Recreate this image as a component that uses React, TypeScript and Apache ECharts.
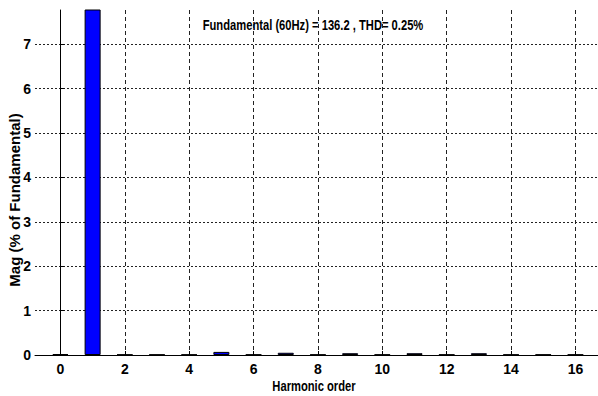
import React, { useEffect, useRef } from "react";
import * as echarts from "echarts";

const harmonicOrders = [0, 1, 2, 3, 4, 5, 6, 7, 8, 9, 10, 11, 12, 13, 14, 15, 16];
const magnitudes = [0.02, 100, 0.01, 0.01, 0.01, 0.07, 0.01, 0.05, 0.01, 0.04, 0.01, 0.04, 0.01, 0.04, 0.01, 0.01, 0.01];
const xTicks = [0, 2, 4, 6, 8, 10, 12, 14, 16];
const yTicks = [0, 1, 2, 3, 4, 5, 6, 7];
const titleText = "Fundamental (60Hz) = 136.2 , THD= 0.25%";
const xName = "Harmonic order";
const yName = "Mag (% of Fundamental)";

const FONT = "Arial, 'Liberation Sans', sans-serif";

export default function App() {
  const ref = useRef<HTMLDivElement>(null);
  useEffect(() => {
    document.body.style.margin = "0";
    const chart = echarts.init(ref.current!, null, { renderer: "svg" });
    chart.setOption({
      animation: false,
      backgroundColor: "#fff",
      grid: { left: 35, right: 0, top: 10, bottom: 41, containLabel: false, outerBoundsMode: "none" },
      graphic: [
        {
          type: "text",
          x: 313,
          y: 26,
          scaleX: 0.8,
          style: {
            text: titleText,
            fontFamily: FONT,
            fontWeight: "bold",
            fontSize: 14,
            fill: "#000",
            textAlign: "center",
            textVerticalAlign: "middle",
          },
        },
        {
          type: "text",
          x: 314,
          y: 387,
          scaleX: 0.8,
          style: {
            text: xName,
            fontFamily: FONT,
            fontWeight: "bold",
            fontSize: 14,
            fill: "#000",
            textAlign: "center",
            textVerticalAlign: "middle",
          },
        },
        {
          type: "text",
          x: 14,
          y: 200,
          rotation: Math.PI / 2,
          style: {
            text: yName,
            fontFamily: FONT,
            fontWeight: "bold",
            fontSize: 15,
            fill: "#000",
            textAlign: "center",
            textVerticalAlign: "middle",
          },
        },
      ],
      xAxis: {
        type: "value",
        min: -0.79,
        max: 16.7,
        axisLine: { show: true, onZero: false, lineStyle: { color: "#000", width: 1 } },
        axisTick: { show: true, inside: true, length: 4, customValues: xTicks, lineStyle: { color: "#000" } },
        axisLabel: { customValues: xTicks, margin: 7, fontFamily: FONT, fontWeight: "bold", fontSize: 14, color: "#000" },
        splitLine: { show: true, lineStyle: { color: "#222", type: [4, 3], width: 1 } },
      },
      yAxis: {
        type: "value",
        min: 0,
        max: 7.77,
        axisLine: { show: true, lineStyle: { color: "#000", width: 1 } },
        axisTick: { show: true, inside: true, length: 4, customValues: yTicks, lineStyle: { color: "#000" } },
        axisLabel: { customValues: yTicks, margin: 4, fontFamily: FONT, fontWeight: "bold", fontSize: 14, color: "#000" },
        splitLine: { show: true, lineStyle: { color: "#222", type: [2, 2], width: 1 } },
      },
      series: [
        {
          type: "bar",
          data: harmonicOrders.map((h, i) => [h, magnitudes[i]]),
          barWidth: 16,
          clip: true,
          itemStyle: { color: "#0000ff", borderColor: "#000", borderWidth: 1 },
        },
      ],
    });
    return () => chart.dispose();
  }, []);
  return <div ref={ref} style={{ width: 598, height: 396 }} />;
}
